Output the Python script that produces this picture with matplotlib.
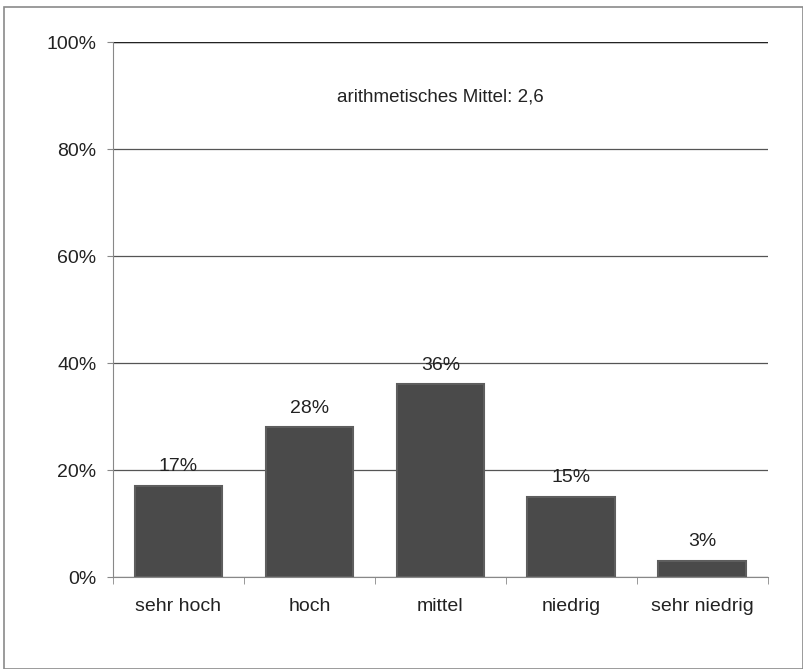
import matplotlib.pyplot as plt
from matplotlib.patches import Rectangle
import numpy as np

plt.rcParams["font.family"] = ["Liberation Sans", "DejaVu Sans"]

categories = ["sehr hoch", "hoch", "mittel", "niedrig", "sehr niedrig"]
values = [17, 28, 36, 15, 3]
yticks = [0, 20, 40, 60, 80, 100]
note = "arithmetisches Mittel: 2,6"

fig = plt.figure(figsize=(8.04, 6.69), dpi=100)
ax = fig.add_axes([0.1405, 0.1375, 0.8145, 0.7995])

# outer frame around the whole chart
fig.patches.append(Rectangle((0.005, 0.0), 0.994, 0.99, transform=fig.transFigure,
                             fill=False, edgecolor="#8a8a8a", linewidth=1.2))

x = np.arange(len(categories))
ax.bar(x, values, width=0.67, color="#4a4a4a", edgecolor="#5e5e5e", linewidth=1.5, zorder=3)

for xi, v in zip(x, values):
    ax.text(xi, v + 2.0, f"{v}%", ha="center", va="bottom", fontsize=14, color="#222222", zorder=4)

ax.text(2, 89.7, note, ha="center", va="center", fontsize=13.5, color="#222222")

ax.set_xlim(-0.5, len(categories) - 0.5)
ax.set_ylim(0, 100)
ax.set_yticks(yticks)
ax.set_yticklabels([f"{t}%" for t in yticks], fontsize=14, color="#222222")
ax.set_xticks(x)
ax.set_xticklabels(categories, fontsize=14, color="#222222")
ax.tick_params(axis="x", length=0, pad=15)
ax.tick_params(axis="y", length=4, color="#888888", pad=8)

# minor ticks at category boundaries
ax.set_xticks(np.arange(-0.5, len(categories)), minor=True)
ax.tick_params(axis="x", which="minor", length=5, color="#888888")

ax.yaxis.grid(True, color="#555555", linewidth=0.9, zorder=0)
ax.set_axisbelow(True)
for s in ["top", "right"]:
    ax.spines[s].set_visible(False)
ax.spines["left"].set_color("#888888")
ax.spines["bottom"].set_color("#888888")
ax.axhline(100, color="#222222", linewidth=1.0)

fig.savefig("out.png", dpi=100)
